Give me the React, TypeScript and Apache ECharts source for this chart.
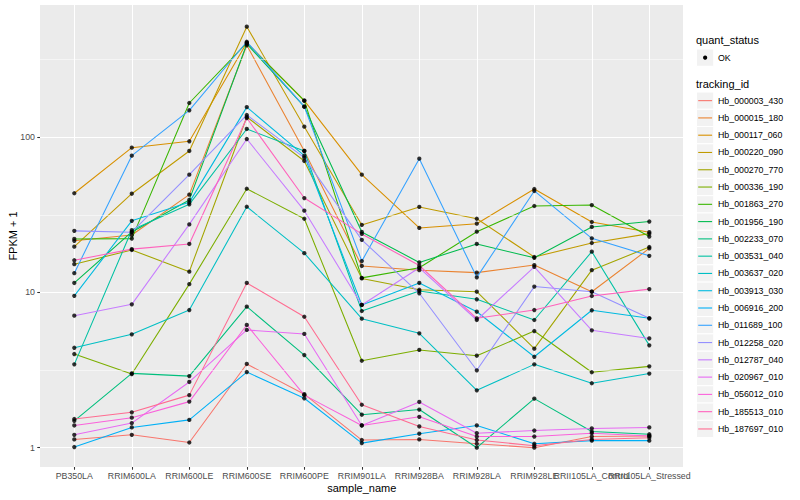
import React, { useEffect, useRef } from "react";
import * as echarts from "echarts";

const samples = [
  "PB350LA", "RRIM600LA", "RRIM600LE", "RRIM600SE", "RRIM600PE", "RRIM901LA",
  "RRIM928BA", "RRIM928LA", "RRIM928LE", "RRII105LA_Control", "RRII105LA_Stressed",
];

const trackingIds = [
  "Hb_000003_430", "Hb_000015_180", "Hb_000117_060", "Hb_000220_090", "Hb_000270_770",
  "Hb_000336_190", "Hb_001863_270", "Hb_001956_190", "Hb_002233_070", "Hb_003531_040",
  "Hb_003637_020", "Hb_003913_030", "Hb_006916_200", "Hb_011689_100", "Hb_012258_020",
  "Hb_012787_040", "Hb_020967_010", "Hb_056012_010", "Hb_185513_010", "Hb_187697_010",
];

const trackColors = [
  "#F8766D", "#EA8331", "#D89000", "#C09B00", "#A3A500", "#7CAE00", "#39B600",
  "#00BB4E", "#00BF7D", "#00C1A3", "#00BFC4", "#00BAE0", "#00B0F6", "#35A2FF",
  "#9590FF", "#C77CFF", "#E76BF3", "#FA62DB", "#FF62BC", "#FF6C91",
];

const hb000003 = [1.13, 1.21, 1.08, 3.46, 2.21, 1.12, 1.13, 1.06, 1.0, 1.18, 1.19];
const hb000015 = [21.5, 23.4, 42.6, 390, 81.4, 14.8, 13.9, 13.4, 15.0, 10.1, 19.2];
const hb000117 = [43.5, 85.5, 94.0, 405, 171.6, 57.3, 26.0, 27.7, 46.3, 28.4, 24.4];
const hb000220 = [19.7, 43.2, 81.4, 514, 116.7, 27.2, 35.5, 29.8, 16.9, 20.8, 23.9];
const hb000270 = [15.2, 18.75, 13.6, 134.7, 70.2, 12.3, 10.4, 10.1, 4.34, 13.9, 19.6];
const hb000336 = [4.01, 2.98, 11.3, 46.5, 29.8, 3.63, 4.26, 3.91, 5.64, 3.06, 3.34];
const hb001863 = [22.1, 22.2, 165.8, 404, 171.6, 12.4, 14.4, 24.6, 36.0, 36.5, 22.9];
const hb001956 = [11.5, 24.5, 39.4, 398, 157, 24.5, 15.6, 20.5, 16.7, 26.4, 28.6];
const hb002233 = [1.49, 3.01, 2.89, 8.09, 3.95, 1.63, 1.76, 1.0, 2.07, 1.27, 1.22];
const hb003531 = [3.44, 25.2, 36.9, 112.8, 81.4, 7.59, 10.2, 9.03, 6.64, 18.3, 4.56];
const hb003637 = [4.4, 5.37, 7.7, 35.6, 17.9, 6.77, 5.45, 2.34, 3.44, 2.6, 3.0];
const hb003913 = [9.5, 28.9, 38.0, 156, 75.9, 8.3, 11.5, 7.51, 3.85, 7.67, 6.81];
const hb006916 = [1.01, 1.35, 1.51, 3.07, 2.08, 1.07, 1.23, 1.39, 1.06, 1.11, 1.11];
const hb011689 = [13.3, 75.9, 148.8, 411, 157, 15.9, 72.6, 12.5, 45.0, 22.3, 17.2];
const hb012258 = [24.9, 24.4, 57.3, 138.8, 73.7, 21.8, 9.87, 3.15, 10.9, 10.1, 6.81];
const hb012787 = [7.08, 8.38, 27.4, 97.2, 33.6, 8.3, 14.4, 6.64, 14.6, 5.7, 5.05];
const hb020967 = [1.21, 1.44, 2.65, 5.73, 5.4, 1.39, 1.97, 1.24, 1.29, 1.33, 1.35];
const hb056012 = [1.39, 1.56, 1.98, 6.17, 2.18, 1.39, 1.58, 1.18, 1.18, 1.24, 1.19];
const hb185513 = [16.1, 19.0, 20.5, 132.7, 40.5, 23.8, 14.9, 6.81, 7.7, 9.48, 10.5];
const hb187697 = [1.53, 1.69, 2.18, 11.5, 6.97, 1.89, 1.37, 1.12, 1.03, 1.13, 1.16];

const seriesValues = [
  hb000003, hb000015, hb000117, hb000220, hb000270, hb000336, hb001863, hb001956,
  hb002233, hb003531, hb003637, hb003913, hb006916, hb011689, hb012258, hb012787,
  hb020967, hb056012, hb185513, hb187697,
];

const minorBreaks = [3.1623, 31.623, 316.23];
const quantStatus = ["OK"];

export default function App() {
  const ref = useRef<HTMLDivElement>(null);

  useEffect(() => {
    if (!ref.current) return;
    const chart = echarts.init(ref.current, null, { renderer: "svg" });
    const font = "Liberation Sans, Arial, Helvetica, sans-serif";
    const yMin = 0.751;
    const yMax = 709;
    const tickStyle = { color: "#333333", width: 1.07 };

    const lineSeries = trackingIds.map((id, k) => ({
      name: id,
      type: "line",
      xAxisIndex: 1,
      yAxisIndex: 1,
      data: seriesValues[k],
      showSymbol: false,
      symbol: "none",
      silent: true,
      z: 3,
      lineStyle: { color: trackColors[k], width: 1.07 },
      itemStyle: { color: trackColors[k] },
      emphasis: { disabled: true },
    }));

    const pointData: number[][] = [];
    seriesValues.forEach((vals) => vals.forEach((v, i) => pointData.push([i, v])));

    const legendX = 696.5;
    const key = 17.28;
    const textX = 718;
    const graphics: any[] = [];
    graphics.push({
      type: "text", x: 696, y: 40,
      style: { text: "quant_status", fill: "#000", fontSize: 11, fontFamily: font, verticalAlign: "middle", align: "left" },
    });
    quantStatus.forEach((q, i) => {
      const top = 49 + i * key;
      graphics.push({ type: "rect", shape: { x: legendX, y: top, width: key, height: key }, style: { fill: "#F2F2F2", stroke: "#FFFFFF", lineWidth: 1 } });
      graphics.push({ type: "circle", shape: { cx: legendX + key / 2, cy: top + key / 2, r: 2.1 }, style: { fill: "#000" } });
      graphics.push({ type: "text", x: textX, y: top + key / 2, style: { text: q, fill: "#000", fontSize: 8.8, fontFamily: font, verticalAlign: "middle", align: "left" } });
    });
    graphics.push({
      type: "text", x: 696, y: 84,
      style: { text: "tracking_id", fill: "#000", fontSize: 11, fontFamily: font, verticalAlign: "middle", align: "left" },
    });
    trackingIds.forEach((id, i) => {
      const top = 92 + i * key;
      graphics.push({ type: "rect", shape: { x: legendX, y: top, width: key, height: key }, style: { fill: "#F2F2F2", stroke: "#FFFFFF", lineWidth: 1 } });
      graphics.push({ type: "line", shape: { x1: legendX + 1.7, y1: top + key / 2, x2: legendX + key - 1.7, y2: top + key / 2 }, style: { stroke: trackColors[i], lineWidth: 1.1 } });
      graphics.push({ type: "text", x: textX, y: top + key / 2, style: { text: id, fill: "#000", fontSize: 8.8, fontFamily: font, verticalAlign: "middle", align: "left" } });
    });

    const option: any = {
      animation: false,
      backgroundColor: "#FFFFFF",
      textStyle: { fontFamily: font },
      grid: [
        { left: 40, top: 5, width: 643, height: 462, show: true, backgroundColor: "#EBEBEB", borderWidth: 0, containLabel: false, outerBoundsMode: "none" },
        { left: 74.3, top: 5, width: 575, height: 462, show: false, containLabel: false, outerBoundsMode: "none" },
      ],
      xAxis: [
        { gridIndex: 0, type: "value", min: 0, max: 1, show: false },
        {
          gridIndex: 1, type: "category", data: samples, boundaryGap: false,
          axisLine: { show: false },
          axisTick: { show: true, length: 2.75, lineStyle: tickStyle },
          axisLabel: { interval: 0, margin: 4, fontSize: 8.8, color: "#4D4D4D", fontFamily: font, hideOverlap: false },
          splitLine: { show: true, lineStyle: { color: "#FFFFFF", width: 1.07 } },
          name: "sample_name", nameLocation: "middle", nameGap: 15, nameMoveOverlap: false,
          nameTextStyle: { fontSize: 11, color: "#000", fontFamily: font },
        },
      ],
      yAxis: [
        {
          gridIndex: 0, type: "log", logBase: 10, min: yMin, max: yMax,
          axisLine: { show: false },
          axisTick: { show: true, length: 2.75, lineStyle: tickStyle },
          axisLabel: { margin: 5, fontSize: 8.8, color: "#4D4D4D", fontFamily: font, showMinLabel: false, showMaxLabel: false },
          splitLine: { show: true, showMinLine: false, showMaxLine: false, lineStyle: { color: "#FFFFFF", width: 1.07 } },
          name: "FPKM + 1", nameLocation: "middle", nameGap: 22, nameMoveOverlap: false,
          nameTextStyle: { fontSize: 11, color: "#000", fontFamily: font },
        },
        { gridIndex: 1, type: "log", logBase: 10, min: yMin, max: yMax, show: false },
      ],
      graphic: graphics,
      series: [
        {
          type: "line", xAxisIndex: 0, yAxisIndex: 0, data: [], silent: true, z: 1,
          markLine: {
            silent: true, symbol: "none", label: { show: false },
            lineStyle: { color: "#FFFFFF", width: 0.53, type: "solid" },
            emphasis: { disabled: true },
            data: minorBreaks.map((v) => ({ yAxis: v })),
          },
        },
        ...lineSeries,
        {
          name: "OK", type: "scatter", xAxisIndex: 1, yAxisIndex: 1, data: pointData,
          symbol: "circle", symbolSize: 4.3, z: 5, silent: true,
          itemStyle: { color: "#000000" }, emphasis: { disabled: true },
        },
      ],
    };
    chart.setOption(option);
    return () => chart.dispose();
  }, []);

  return <div ref={ref} style={{ position: "fixed", left: 0, top: 0, width: 800, height: 500 }} />;
}
